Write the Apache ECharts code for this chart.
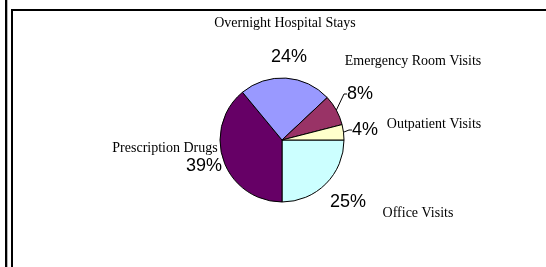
<!DOCTYPE html>
<html>
<head>
<meta charset="utf-8">
<script src="https://cdn.jsdelivr.net/npm/echarts@6.0.0/dist/echarts.min.js"></script>
<style>
  html, body { margin: 0; padding: 0; background: #fff; }
  #chart { width: 546px; height: 267px; }
</style>
</head>
<body>
<div id="chart"></div>
<script>
// slices clockwise from 3 o'clock
const categories = ['Office Visits', 'Prescription Drugs', 'Overnight Hospital Stays', 'Emergency Room Visits', 'Outpatient Visits']
const shares = [25, 39, 24, 8, 4] // percent

// excel-ish palette, same order as categories
const colors = ['#CCFFFF', '#660066', '#9999FF', '#993366', '#FFFFCC']
// where the text sits (centre points, px)
const pctPos = [[348, 202], [204, 166], [289, 57], [360, 94], [365, 130]]
const namePos = [[418, 213], [165, 148], [285, 23], [413, 61], [434, 124]]
const withLine = [false, false, false, true, true]

const chart = echarts.init(document.getElementById('chart'))

const pieBase = {
  type: 'pie',
  center: [282, 140],
  radius: 62,
  startAngle: 0,
  clockwise: true,
  avoidLabelOverlap: false,
  minShowLabelAngle: 0,
  animation: false
}

const option = {
  backgroundColor: '#fff',
  graphic: [
    // outer bar on the left
    { type: 'rect', shape: { x: 5, y: 0, width: 2.3, height: 267 }, style: { fill: '#000' } },
    // chart frame (runs off right and bottom)
    { type: 'rect', shape: { x: 12, y: 10, width: 600, height: 300 }, style: { fill: 'none', stroke: '#000', lineWidth: 2 } }
  ],
  series: [
    Object.assign({}, pieBase, {
      name: 'pct',
      itemStyle: { borderColor: '#000', borderWidth: 1 },
      label: {
        show: true,
        position: 'outside',
        formatter: p => p.value + '%',
        fontFamily: 'Liberation Sans',
        fontSize: 18,
        color: '#000'
      },
      labelLine: { show: true, length: 4, length2: 3, lineStyle: { color: '#000', width: 1 } },
      labelLayout: p => ({
        x: pctPos[p.dataIndex][0],
        y: pctPos[p.dataIndex][1],
        align: 'center',
        verticalAlign: 'middle'
      }),
      data: categories.map((c, i) => ({
        name: c,
        value: shares[i],
        itemStyle: { color: colors[i] },
        labelLine: { show: withLine[i] }
      }))
    }),
    Object.assign({}, pieBase, {
      name: 'names',
      silent: true,
      itemStyle: { color: 'transparent', borderWidth: 0 },
      label: {
        show: true,
        position: 'outside',
        formatter: '{b}',
        fontFamily: 'Liberation Serif',
        fontSize: 14,
        color: '#000'
      },
      labelLine: { show: false },
      labelLayout: p => ({
        x: namePos[p.dataIndex][0],
        y: namePos[p.dataIndex][1],
        align: 'center',
        verticalAlign: 'middle'
      }),
      data: categories.map((c, i) => ({ name: c, value: shares[i] }))
    })
  ]
}
chart.setOption(option)
</script>
</body>
</html>
